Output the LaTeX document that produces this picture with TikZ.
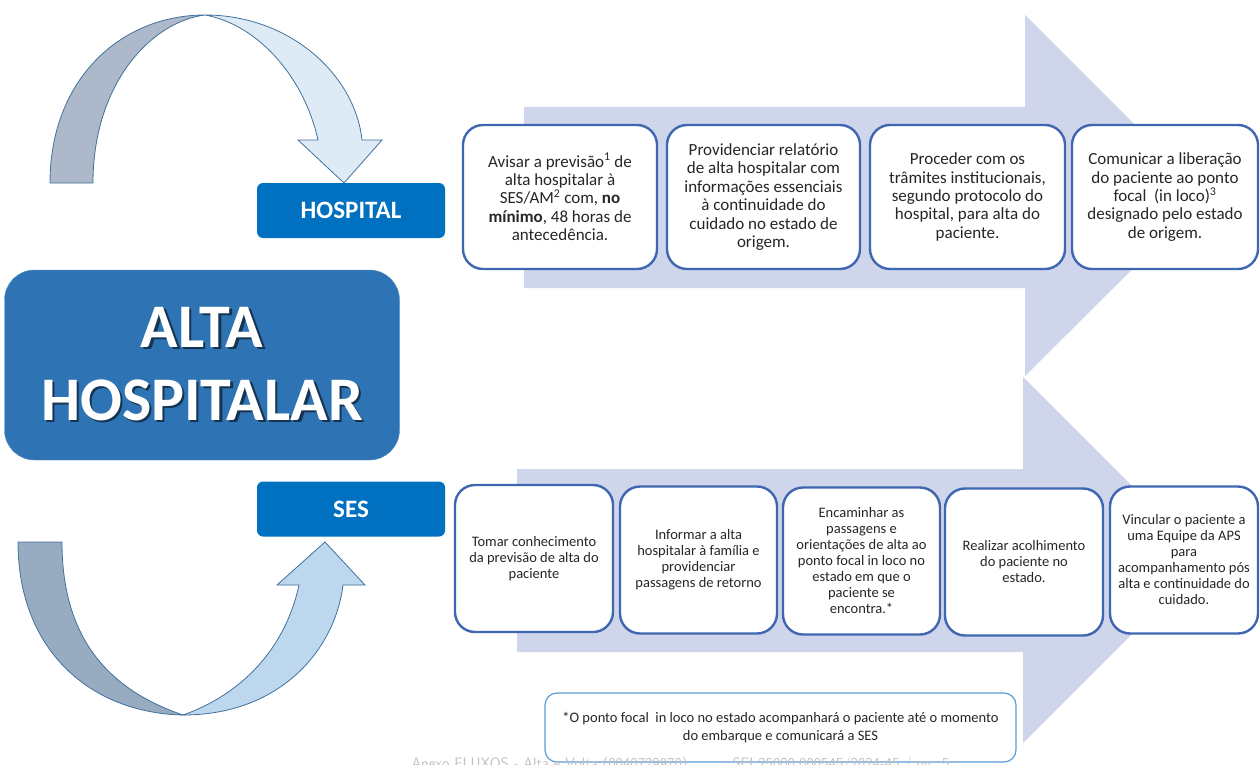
\documentclass[tikz,border=0pt]{standalone}
\usepackage{fontspec}
\setmainfont{Carlito}
\usetikzlibrary{positioning}

\definecolor{setafundo}{HTML}{CFD5EA}
\definecolor{contorno}{HTML}{3F67B1}
\definecolor{notacontorno}{HTML}{5B9BD5}
\definecolor{titulo}{HTML}{2E74B5}
\definecolor{rotulo}{HTML}{0070C0}
\definecolor{texto}{HTML}{262626}
\definecolor{arcoborda}{HTML}{41719C}
\definecolor{arcocinza}{HTML}{ADB9CA}
\definecolor{arcoclaro}{HTML}{DEEBF7}
\definecolor{arcoescuro}{HTML}{97ABC1}
\definecolor{arcomedio}{HTML}{BDD7EE}

% texto com sombra
\newcommand{\sombra}[1]{\rlap{\hspace{2.5pt}\raisebox{-2.5pt}{\textcolor{titulo!45!black}{#1}}}#1}

\begin{document}
\begin{tikzpicture}[x = 1pt, y = -1pt,
	seta/.style = {fill = setafundo},
	arco/.style = {draw = arcoborda, line width = 0.8pt},
	etapa/.style = {draw = contorno, line width = 2.4pt, rounded corners = 20pt, fill = white,
		align = center, text = texto, inner sep = 2pt},
	hospbox/.style = {etapa, minimum height = 144pt, font = \fontsize{17}{18.4}\selectfont},
	sesbox/.style = {etapa, minimum height = 147pt, font = \fontsize{14.5}{16}\selectfont},
	tag/.style = {fill = rotulo, rounded corners = 6pt, minimum width = 188pt, minimum height = 55pt,
		text = white, font = \fontsize{25}{30}\selectfont\bfseries},
	titulobox/.style = {fill = titulo, draw = titulo!80!white, rounded corners = 30pt,
		minimum width = 395pt, minimum height = 190pt, text = white, align = center,
		font = \fontsize{62}{73}\selectfont\bfseries}
	]
	\useasboundingbox (0, 0) rectangle (1260, 765);
	
	%	setas grandes
	\fill[seta] (524, 107) -- (1025, 107) -- (1025, 15) -- (1206, 196) -- (1025, 376) -- (1025, 288) -- (524, 288) -- cycle;
	\fill[seta] (517, 469) -- (1023, 469) -- (1023, 377) -- (1206, 560) -- (1023, 743) -- (1023, 652) -- (517, 652) -- cycle;
	
	%	arco de cima
	\filldraw[arco, fill = arcocinza] (50, 183) .. controls (50, 80) and (120, 15) .. (205, 15)
		.. controls (150, 22) and (93, 85) .. (93, 183) -- cycle;
	\filldraw[arco, fill = arcoclaro] (205, 15) .. controls (290, 15) and (355, 75) .. (362, 140)
		-- (382, 140) -- (344, 183) -- (298, 140) -- (318, 140)
		.. controls (305, 80) and (260, 25) .. (205, 15) -- cycle;
	
	%	arco de baixo
	\filldraw[arco, fill = arcoescuro] (18, 542) -- (62, 542) .. controls (62, 640) and (110, 690) .. (183, 715)
		.. controls (90, 713) and (18, 650) .. (18, 542) -- cycle;
	\filldraw[arco, fill = arcomedio] (183, 715) .. controls (280, 715) and (335, 650) .. (343, 585)
		-- (365, 585) -- (325, 542) -- (277, 585) -- (299, 585)
		.. controls (285, 650) and (240, 695) .. (183, 715) -- cycle;
	
	%	titulo
	\node[titulobox] (alta) at (202, 365) {\sombra{ALTA}\\\sombra{HOSPITALAR}};
	
	%	rotulos
	\node[tag] (hospital) at (351, 210.5) {HOSPITAL};
	\node[tag] (ses) at (351, 509) {SES};
	
	%	hospital
	\node[hospbox, minimum width = 194pt] (h1) at (560, 197) {Avisar a previsão\textsuperscript{1} de\\alta hospitalar à\\SES/AM\textsuperscript{2} com, \textbf{no}\\\textbf{mínimo}, 48 horas de\\antecedência.};
	\node[hospbox, minimum width = 193pt] (h2) at (763.5, 197) {Providenciar relatório\\de alta hospitalar com\\informações essenciais\\à continuidade do\\cuidado no estado de\\origem.};
	\node[hospbox, minimum width = 195pt] (h3) at (967.5, 197) {Proceder com os\\trâmites institucionais,\\segundo protocolo do\\hospital, para alta do\\paciente.};
	\node[hospbox, minimum width = 186pt] (h4) at (1165, 197) {Comunicar a liberação\\do paciente ao ponto\\focal\ \ (in loco)\textsuperscript{3}\\designado pelo estado\\de origem.};
	
	%	ses
	\node[sesbox, minimum width = 158pt] (s1) at (534, 558.5) {Tomar conhecimento\\da previsão de alta do\\paciente};
	\node[sesbox, minimum width = 157pt] (s2) at (698.5, 560) {Informar a alta\\hospitalar à família e\\providenciar\\passagens de retorno};
	\node[sesbox, minimum width = 157pt] (s3) at (861.5, 561) {Encaminhar as\\passagens e\\orientações de alta ao\\ponto focal in loco no\\estado em que o\\paciente se\\encontra.*};
	\node[sesbox, minimum width = 158pt] (s4) at (1024, 562) {Realizar acolhimento\\do paciente no\\estado.};
	\node[sesbox, minimum width = 148pt] (s5) at (1184, 560) {Vincular o paciente a\\uma Equipe da APS\\para\\acompanhamento pós\\alta e continuidade do\\cuidado.};
	
	%	nota
	\node[draw = notacontorno, line width = 1.2pt, rounded corners = 12pt, fill = white, minimum width = 471pt, minimum height = 69pt,
		align = center, text = texto, font = \fontsize{14.5}{18}\selectfont] (nota) at (780.5, 727.5) {*O ponto focal\ \ in loco no estado acompanhará o paciente até o momento\\do embarque e comunicará a SES};
	\node[anchor = base west, text = black!25, font = \fontsize{15}{18}\selectfont\sffamily] (anexo) at (408, 768) {Anexo FLUXOS - Alta e Volta (0040729970)\qquad\quad SEI 25000.000545/2024-45 / pg. 5};
\end{tikzpicture}
\end{document}
